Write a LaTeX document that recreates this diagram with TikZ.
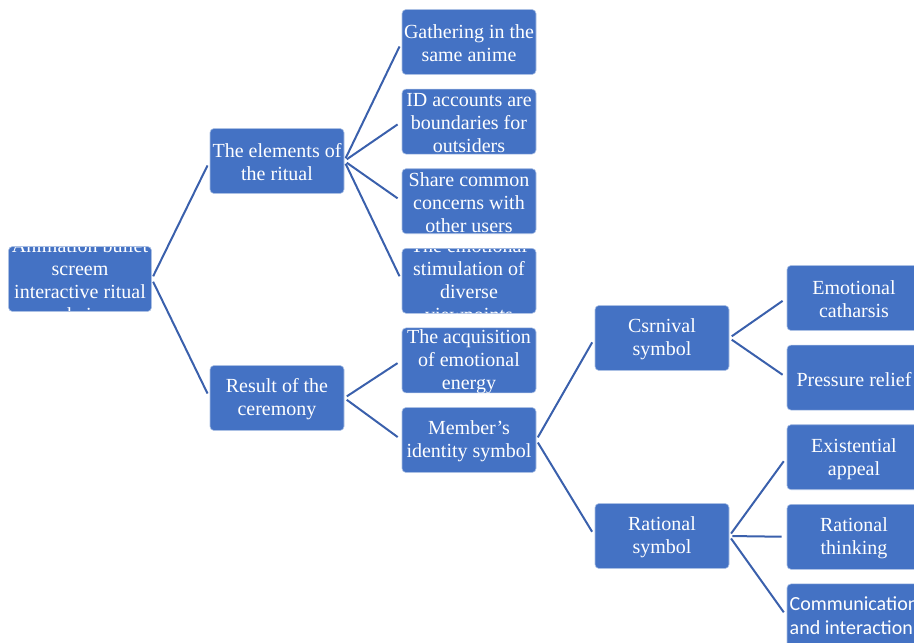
\documentclass[tikz,border=0pt]{standalone}
\usepackage{fontspec}
\setmainfont{Liberation Serif}
\newfontfamily\calibrifont{Carlito}
\usetikzlibrary{positioning}
\definecolor{boxblue}{HTML}{4472C4}
\definecolor{linkblue}{HTML}{3A60AC}

\begin{document}
\begin{tikzpicture}[
            x = 1pt, y = -1pt, % pixel units, y downwards
            line width = 2pt,
            box/.style = {
                rectangle,
                rounded corners = 4pt,
                fill = boxblue,
                draw = white!55!boxblue,
                line width = 0.6pt,
                minimum width = 134pt,
                minimum height = 65pt,
                inner sep = 0pt,
                % text is cut off at the border of the box
                path picture = {\node[boxtext] at ([yshift=-1.5pt]path picture bounding box.center) {#1};}
            },
            boxtext/.style = {
                anchor = center,
                text = white,
                align = center,
                font = \fontsize{20}{23}\selectfont
            },
            link/.style = {
                draw = linkblue,
                shorten < = 3pt,
                shorten > = 5pt
            }
        ]

        \clip (0,0) rectangle (914,643);

        % root
        \node[box={Animation bullet\\screem\\interactive ritual\\chain}, minimum width=143pt] (root) at (80,279) {};

        % second level
        \node[box={The elements of\\the ritual}] (elem) at (277,161) {};
        \node[box={Result of the\\ceremony}] (result) at (277,398) {};

        % third level
        \node[box={Gathering in the\\same anime}] (gather) at (469,42) {};
        \node[box={ID accounts are\\boundaries for\\outsiders}] (ident) [below=14pt of gather] {};
        \node[box={Share common\\concerns with\\other users}] (share) [below=14pt of ident] {};
        \node[box={The emotional\\stimulation of\\diverse\\viewpoints}] (stim) [below=14pt of share] {};
        \node[box={The acquisition\\of emotional\\energy}] (energy) [below=14pt of stim] {};
        \node[box={Member's\\identity symbol}] (member) [below=14pt of energy] {};

        % fourth level
        \node[box={Csrnival\\symbol}] (carn) at (662,338) {};
        \node[box={Rational\\symbol}] (ratsym) at (662,536) {};

        % leaves
        \node[box={Emotional\\catharsis}] (cathar) at (854,298) {};
        \node[box={Pressure relief}] (relief) [below=14pt of cathar] {};
        \node[box={Existential\\appeal}] (exist) [below=14pt of relief] {};
        \node[box={Rational\\thinking}] (think) [below=14pt of exist] {};
        \node[box={\calibrifont\fontsize{20}{24}\selectfont\begin{tabular}{@{}l@{}}Communication\\and interaction\end{tabular}}] (comm) [below=14pt of think] {};

        % connectors
        \path[link] (root.east) -- (elem.west);
        \path[link] (root.east) -- (result.west);

        \foreach \child in {gather, ident, share, stim}
            \path[link] (elem.east) -- (\child.west);
        \foreach \child in {energy, member}
            \path[link] (result.east) -- (\child.west);
        \foreach \child in {carn, ratsym}
            \path[link] (member.east) -- (\child.west);
        \foreach \child in {cathar, relief}
            \path[link] (carn.east) -- (\child.west);
        \foreach \child in {exist, think, comm}
            \path[link] (ratsym.east) -- (\child.west);

\end{tikzpicture}
\end{document}
